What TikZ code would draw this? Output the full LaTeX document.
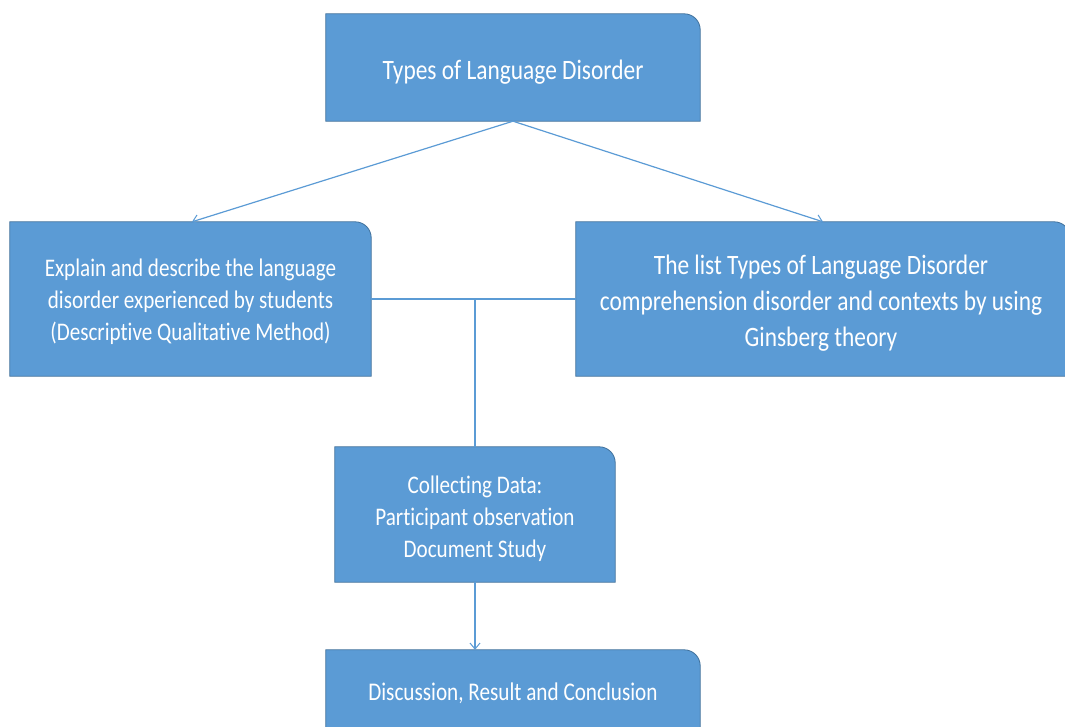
\documentclass[tikz,border=0pt]{standalone}
\usepackage{fontspec}
\setmainfont[RawFeature={-liga}]{Carlito}
\usetikzlibrary{arrows.meta,calc}
\definecolor{boxfill}{HTML}{5B9BD5}
\definecolor{boxedge}{HTML}{41719C}
\definecolor{linec}{HTML}{5B9BD5}
\tikzset{
  box/.style={draw=none,fill=none,text=white,align=center,inner sep=0pt},
  conn/.style={draw=linec,line width=1.2pt},
  arr/.style={conn,-{Straight Barb[length=6pt,width=10pt,line width=1pt]}}
}
\newcommand{\tallt}[1]{\scalebox{1}[1.2]{\begin{tabular}{@{}c@{}}#1\end{tabular}}}
\newcommand{\oneround}[1]{%
  \draw[boxedge,fill=boxfill,line width=0.8pt]
    (#1.south west) -- (#1.north west) -- ($(#1.north east)+(-16,0)$)
    arc[start angle=270,end angle=360,radius=16] -- (#1.south east) -- cycle;}
\begin{document}
\begin{tikzpicture}[x=1pt,y=-1pt]
\useasboundingbox (0,0) rectangle (1065,726);
\clip (0,0) rectangle (1065,726);
% placeholders (for sizes)
\path node[minimum width=374pt,minimum height=107pt] (tbox) at (513,67.5) {}
      node[minimum width=361pt,minimum height=154pt] (lbox) at (190.5,299) {}
      node[minimum width=494pt,minimum height=154pt] (rbox) at (823,299) {}
      node[minimum width=280pt,minimum height=135pt] (cbox) at (475,514.5) {}
      node[minimum width=374pt,minimum height=90pt] (bbox) at (513,695) {};
\oneround{tbox}
\oneround{lbox}
\oneround{rbox}
\oneround{cbox}
\oneround{bbox}
\node[box,font=\fontsize{23.4}{24}\selectfont] (ttext) at ($(tbox.center)+(0,6)$) {\tallt{Types of Language Disorder}};
\node[box,font=\fontsize{21.1}{26.7}\selectfont] (ltext) at ($(lbox.center)+(0,3)$) {\tallt{Explain and describe the language\\disorder experienced by students\\(Descriptive Qualitative Method)}};
\node[box,font=\fontsize{23.4}{30}\selectfont] (rtext) at ($(rbox.center)+(-2,4)$) {\tallt{The list Types of Language Disorder\\comprehension disorder and contexts by using\\Ginsberg theory}};
\node[box,font=\fontsize{21.1}{26.7}\selectfont] (ctext) at ($(cbox.center)+(0,5)$) {\tallt{Collecting Data:\\Participant observation\\Document Study}};
\node[box,font=\fontsize{21.2}{24}\selectfont] (btext) at (513,695) {\tallt{Discussion, Result and Conclusion}};
% connectors
\coordinate (jn) at (cbox.north |- lbox.east);
\draw[arr] (tbox.south) -- ($(lbox.north)+(1.5,0)$);
\draw[arr] (tbox.south) -- (rbox.north);
\draw[conn] (lbox.east) -- (rbox.west);
\draw[conn] (jn) -- (cbox.north);
\draw[arr] (cbox.south) -- (cbox.south |- bbox.north);
\end{tikzpicture}
\end{document}
